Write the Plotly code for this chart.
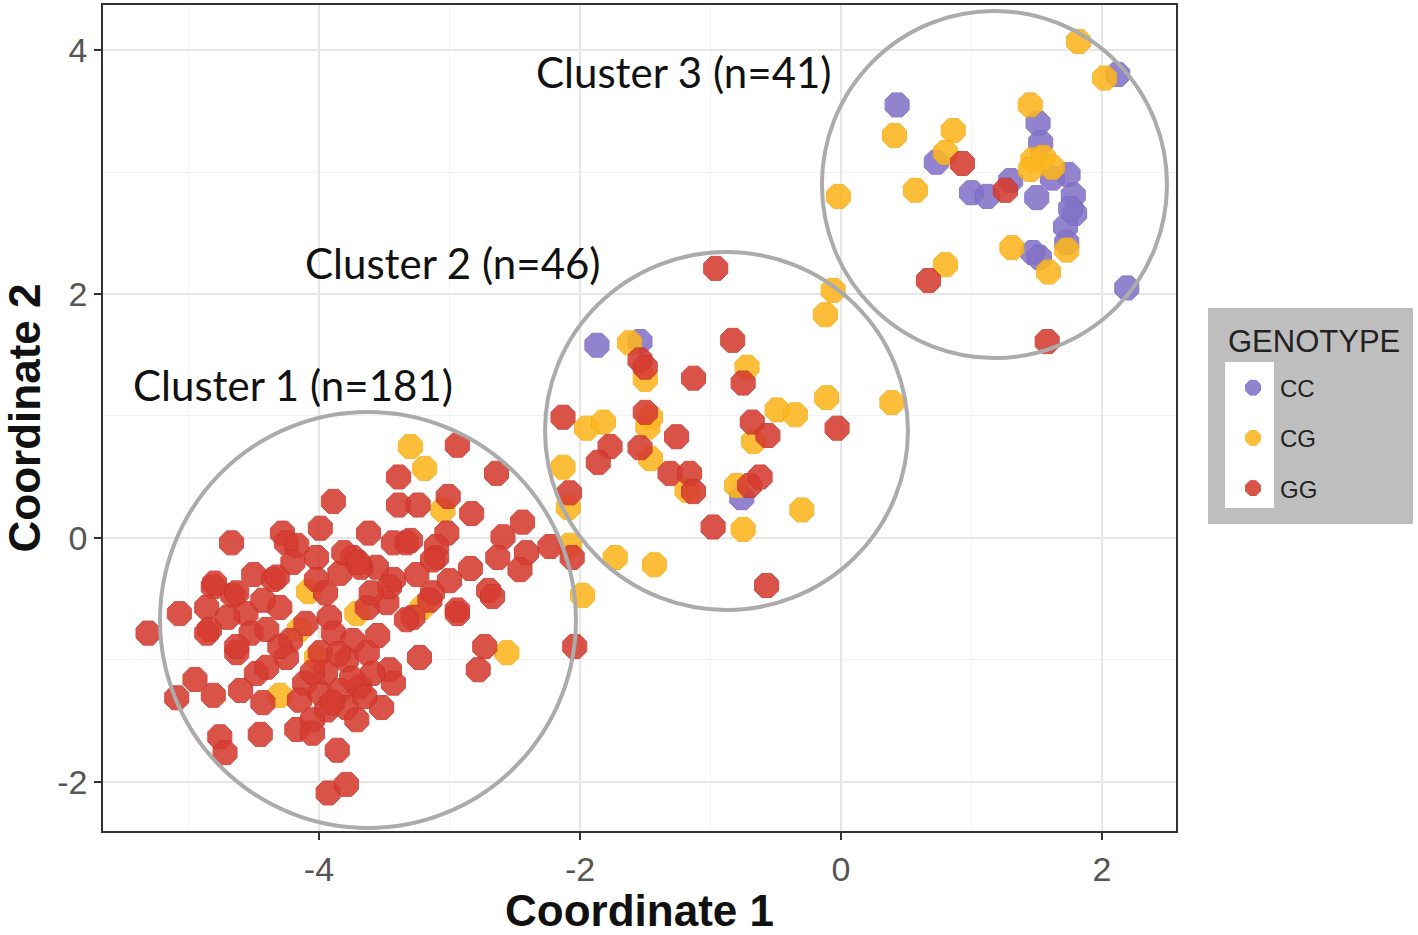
import plotly.graph_objects as go

# ---------------- data (Coordinate 1, Coordinate 2) ----------------
cc_x = [0.43, 0.73, 1.00, 1.12, 1.30, 1.50, 1.51, 1.53, 1.62, 1.74, 1.78, 1.79, 1.72, 1.73, 1.76,
        1.47, 1.52, 2.19, 2.12, -1.87, -1.54, -0.76]
cc_y = [3.55, 3.08, 2.83, 2.80, 2.93, 2.79, 3.40, 3.24, 2.95, 2.98, 2.81, 2.66, 2.55, 2.42, 2.70,
        2.34, 2.30, 2.05, 3.80, 1.58, 1.61, 0.33]

cg_x = [0.41, 0.86, 0.80, 0.57, -0.02, 1.45, 1.47, 1.55, 1.62, 1.45, 1.73, 1.31, 1.59, 0.80, 1.82, 2.02,
        -0.06, -0.12, -1.62, -1.50, -0.72, -0.11, 0.39, -0.49, -0.35, -0.67, -1.95, -1.82, -1.46, -1.48,
        -1.46, -1.18, -0.80, -2.13, -2.09, -0.75, -0.30, -1.43, -1.73, -1.98, -2.08,
        -3.30, -3.19, -3.05, -4.08, -4.15, -4.30, -3.71, -4.02, -2.56, -3.21]
cg_y = [3.30, 3.34, 3.16, 2.85, 2.80, 3.55, 3.10, 3.12, 3.04, 3.02, 2.36, 2.38, 2.18, 2.24, 4.07, 3.77,
        2.03, 1.83, 1.60, 1.30, 1.40, 1.15, 1.11, 1.05, 1.01, 0.79, 0.90, 0.95, 0.99, 0.91,
        0.65, 0.39, 0.43, 0.58, 0.25, 0.07, 0.23, -0.22, -0.16, -0.47, -0.06,
        0.75, 0.57, 0.23, -0.44, -0.75, -1.29, -0.62, -0.98, -0.94, -0.57]

gg_x = [0.93, 1.26, 0.67, 1.58,
        -0.96, -1.54, -1.50, -1.13, -0.83, -0.75, -0.68, -0.56, -0.03, -2.13, -1.77, -1.86, -1.50,
        -1.26, -1.54, -1.31, -1.16, -1.13, -0.70, -0.62, -2.08, -0.98, -0.57, -2.06, -2.04,
        -2.94, -2.64, -3.39, -3.89, -3.39, -3.24, -3.01, -2.83, -2.44, -2.59, -2.23, -2.63, -2.41,
        -2.84, -2.70, -2.46, -2.94, -3.02, -3.10, -3.13, -3.28, -3.23, -3.46, -3.43, -3.52, -2.73,
        -2.78, -4.67, -4.28, -3.99, -3.62, -3.33, -3.74, -4.02, -4.25, -4.35, -4.81, -4.66, -5.07,
        -5.31, -4.86, -4.84, -4.56, -4.52, -4.30, -4.22, -4.63, -4.48, -4.95, -5.09, -4.81, -4.43,
        -4.76, -4.72, -4.45, -4.17, -3.86, -3.93, -3.79, -3.92, -3.63, -3.48, -3.33, -3.15, -3.43,
        -3.56, -3.84, -4.02, -3.89, -3.74, -3.99, -3.79, -3.63, -4.25, -4.40, -4.11, -4.15, -3.99,
        -3.84, -3.69, -3.94, -3.79, -3.71, -4.05, -3.59, -4.30, -4.17, -3.81, -3.68, -4.32, -4.80,
        -4.63, -4.43, -4.86, -4.63, -2.67, -3.10, -3.13, -3.43, -3.30, -3.70, -3.46, -2.94,
        -3.95, -3.75, -3.85, -3.65, -4.05, -3.90, -3.55, -4.10, -4.40, -4.50, -4.20, -3.95, -4.60,
        -4.70, -4.05, -3.60, -3.25, -3.00]
gg_y = [3.07, 2.85, 2.11, 1.61,
        2.21, 1.46, 1.40, 1.31, 1.62, 1.27, 0.95, 0.84, 0.90, 0.99, 0.75, 0.62, 1.03,
        0.83, 0.74, 0.53, 0.53, 0.38, 0.43, 0.50, 0.37, 0.09, -0.39, -0.16, -0.89,
        0.76, 0.53, 0.50, 0.30, 0.27, 0.27, 0.34, 0.20, 0.13, 0.01, -0.07, -0.16, -0.12,
        -0.25, -0.43, -0.26, -0.62, 0.04, -0.16, -0.45, -0.65, -0.98, -1.08, -1.19, -1.39, -0.89,
        -1.08, -0.04, 0.04, 0.08, 0.04, -0.04, -0.16, -0.16, -0.04, -0.34, -0.40, -0.47, -0.62,
        -0.78, -0.57, -0.75, -0.62, -0.78, -0.57, -0.84, -0.94, -1.11, -1.16, -1.31, -1.29, -1.35,
        -1.63, -1.76, -1.61, -1.57, -1.74, -2.09, -2.02, -0.65, -0.57, -0.53, -0.67, -0.51, -0.34,
        -0.24, -0.29, -0.34, -0.78, -0.84, -0.94, -1.00, -0.94, -0.98, -1.06, -1.19, -1.33, -1.27,
        -1.25, -1.22, -1.41, -1.39, -1.49, -1.49, -1.11, -0.89, -0.06, -0.12, -0.24, -0.32, -0.37,
        -0.45, -0.51, -0.78, -0.89, -0.48, -0.07, -0.18, -0.04, -0.02, -0.20, -0.40, -0.59,
        -1.10, -1.15, -0.95, -1.30, -1.10, -1.35, -0.80, -0.70, -0.75, -0.30, -0.20, -0.45, -1.25,
        -0.65, -1.60, -0.45, -0.30, -0.35]

genotypes = ["CC", "CG", "GG"]
legend_title = "GENOTYPE"
colors = {"CC": "#8373C8", "CG": "#FCB61E", "GG": "#D63C30"}
edge = {"CC": "#7A69BE", "CG": "#F5AE18", "GG": "#C9352A"}

x_ticks = [-4, -2, 0, 2]
x_tick_text = ["-4", "-2", "0", "2"]
y_ticks = [-2, 0, 2, 4]
y_tick_text = ["-2", "0", "2", "4"]

# cluster outlines (x0, x1, y0, y1) and labels
circles = [(-5.218, -2.031, -2.377, 1.033), (-2.268, 0.513, -0.590, 2.344), (-0.146, 2.498, 1.475, 4.320)]
cluster_labels = ["Cluster 1 (n=181)", "Cluster 2 (n=46)", "Cluster 3 (n=41)"]
label_x = [-4.20, -2.973, -1.203]
label_y = [1.254, 2.254, 3.82]

series = {"CC": (cc_x, cc_y), "CG": (cg_x, cg_y), "GG": (gg_x, gg_y)}

fig = go.Figure()
for i, g in enumerate(genotypes):
    xs, ys = series[g]
    fig.add_trace(go.Scatter(
        x=xs, y=ys, mode="markers", name=g, legendgroup=g, legendrank=i + 1,
        marker=dict(symbol="octagon", size=26, color=colors[g], opacity=0.88,
                    line=dict(color=edge[g], width=1)),
    ))

# plot area: x 103..1176 px, y 5..831 px
shapes = []
for (x0, x1, y0, y1) in circles:
    shapes.append(dict(type="circle", xref="x", yref="y", x0=x0, x1=x1, y0=y0, y1=y1,
                       line=dict(color="#ABABAB", width=4), layer="above"))
# legend background (grey panel, white key column)
shapes.append(dict(type="rect", xref="paper", yref="paper", x0=1.0298, x1=1.2209, y0=0.3717, y1=0.6332,
                   fillcolor="#BEBEBE", line=dict(width=0), layer="below"))
shapes.append(dict(type="rect", xref="paper", yref="paper", x0=1.0457, x1=1.0913, y0=0.3910, y1=0.5678,
                   fillcolor="#FFFFFF", line=dict(width=0), layer="below"))

annotations = []
for t, lx, ly in zip(cluster_labels, label_x, label_y):
    annotations.append(dict(x=lx, y=ly, xref="x", yref="y", text=t, showarrow=False,
                            xanchor="center", yanchor="middle",
                            font=dict(family="Lato, Open Sans, sans-serif", size=42, color="#111111")))
annotations.append(dict(x=1.0466, y=0.5932, xref="paper", yref="paper", text=legend_title,
                        showarrow=False, xanchor="left", yanchor="middle",
                        font=dict(family="Liberation Sans, Arial, sans-serif", size=31, color="#222222")))

axis_common = dict(
    showline=True, linecolor="#333333", linewidth=1.5, mirror=True,
    showgrid=True, gridcolor="#E6E6E6", gridwidth=1.5,
    zeroline=False, ticks="outside", ticklen=7, tickcolor="#333333", tickwidth=1.5,
    tickfont=dict(family="Liberation Sans, Arial, sans-serif", size=34, color="#555555"),
    minor=dict(dtick=1, tick0=0, showgrid=True, gridcolor="#F2F2F2", gridwidth=1, ticks=""),
)

fig.update_layout(
    width=1418, height=935,
    margin=dict(l=103, r=242, t=5, b=104, autoexpand=False),
    paper_bgcolor="white", plot_bgcolor="white",
    shapes=shapes, annotations=annotations,
    xaxis=dict(range=[-5.655, 2.567], tickvals=x_ticks, ticktext=x_tick_text,
               title=dict(text="<b>Coordinate 1</b>", standoff=12,
                          font=dict(family="Liberation Sans, Arial, sans-serif", size=44, color="#111111")),
               **axis_common),
    yaxis=dict(range=[-2.402, 4.369], tickvals=y_ticks, ticktext=y_tick_text,
               title=dict(text="<b>Coordinate 2</b>", standoff=6,
                          font=dict(family="Liberation Sans, Arial, sans-serif", size=44, color="#111111")),
               **axis_common),
    showlegend=True,
    legend=dict(
        x=1.0466, y=0.5634, xanchor="left", yanchor="top",
        bgcolor="rgba(0,0,0,0)", borderwidth=0,
        font=dict(family="Liberation Sans, Arial, sans-serif", size=24, color="#222222"),
        tracegroupgap=16, itemwidth=44,
    ),
)

# remove the default 8px page margin so the 1418x935 figure fills the window exactly
fig.write_html("out.html", config={"displayModeBar": False},
               post_script="document.body.style.margin='0px';")
